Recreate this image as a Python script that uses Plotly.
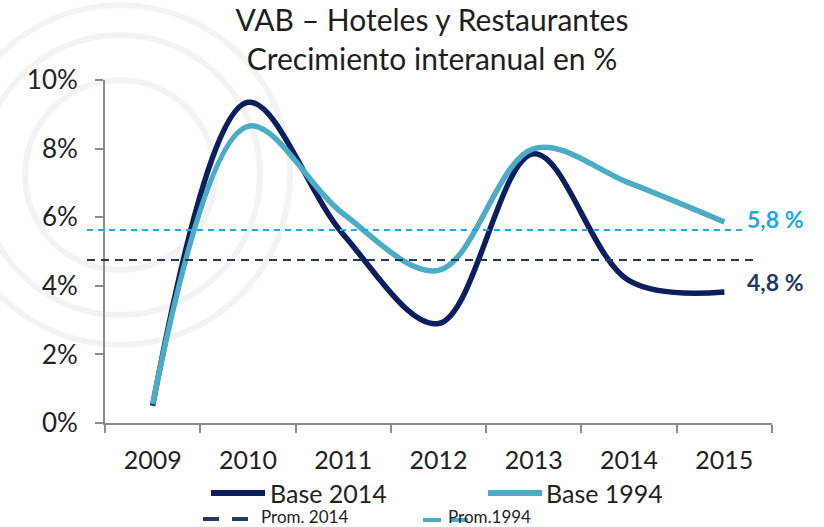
import plotly.graph_objects as go

years = ["2009", "2010", "2011", "2012", "2013", "2014", "2015"]
base_2014 = [0.5, 9.35, 5.5, 2.9, 7.85, 4.15, 3.82]
base_1994 = [0.55, 8.65, 6.1, 4.45, 8.0, 7.0, 5.86]
prom_2014 = 4.75
prom_1994 = 5.63
prom_2014_label = "4,8 %"
prom_1994_label = "5,8 %"
y_ticks = [0, 2, 4, 6, 8, 10]
y_tick_text = ["0%", "2%", "4%", "6%", "8%", "10%"]

DARK = "#0b1f5e"
LIGHT = "#4bacc6"
DASH_DARK = "#1f3864"
DASH_LIGHT = "#1ea8e6"
FONT = "Lato"

W, H = 824, 527
L, R, T, B = 105, 52, 80, 104
pw, ph = W - L - R, H - T - B


def px(x):
    return (x - L) / pw


def py(y):
    return (H - B - y) / ph


fig = go.Figure()
fig.add_trace(go.Scatter(x=years, y=base_2014, mode="lines", name="Base 2014",
                         line=dict(color=DARK, width=5.5, shape="spline", smoothing=1.0),
                         showlegend=False))
fig.add_trace(go.Scatter(x=years, y=base_1994, mode="lines", name="Base 1994",
                         line=dict(color=LIGHT, width=5.5, shape="spline", smoothing=1.0),
                         showlegend=False))

shapes = []
# faint watermark arcs
for r, cx, cy in [(170, 120, 175), (140, 120, 175), (95, 120, 175)]:
    shapes.append(dict(type="circle", xref="paper", yref="paper", layer="below",
                       x0=px(cx - r), x1=px(cx + r), y0=py(cy + r), y1=py(cy - r),
                       line=dict(color="#f2f4f4", width=6)))
# average lines
shapes.append(dict(type="line", xref="paper", yref="y", x0=px(87), x1=px(743),
                   y0=prom_1994, y1=prom_1994, line=dict(color=DASH_LIGHT, width=2, dash="6px,5px")))
shapes.append(dict(type="line", xref="paper", yref="y", x0=px(87), x1=px(753),
                   y0=prom_2014, y1=prom_2014, line=dict(color=DASH_DARK, width=2, dash="8px,6px")))
# legend samples
shapes.append(dict(type="line", xref="paper", yref="paper", x0=px(211), x1=px(265),
                   y0=py(493), y1=py(493), line=dict(color=DARK, width=6)))
shapes.append(dict(type="line", xref="paper", yref="paper", x0=px(488), x1=px(542),
                   y0=py(493), y1=py(493), line=dict(color=LIGHT, width=6)))
shapes.append(dict(type="line", xref="paper", yref="paper", x0=px(203), x1=px(250),
                   y0=py(519), y1=py(519), line=dict(color=DASH_DARK, width=4, dash="16px,13px")))
shapes.append(dict(type="line", xref="paper", yref="paper", x0=px(423), x1=px(468),
                   y0=py(520), y1=py(520), line=dict(color=LIGHT, width=4, dash="18px,10px")))

annotations = [
    dict(text="<b>" + prom_1994_label + "</b>", xref="paper", yref="paper", x=px(745), y=py(219),
         xanchor="left", yanchor="middle", showarrow=False,
         font=dict(family=FONT, size=23, color=DASH_LIGHT)),
    dict(text="<b>" + prom_2014_label + "</b>", xref="paper", yref="paper", x=px(745), y=py(282),
         xanchor="left", yanchor="middle", showarrow=False,
         font=dict(family=FONT, size=23, color=DASH_DARK)),
    dict(text="Base 2014", xref="paper", yref="paper", x=px(268), y=py(493),
         xanchor="left", yanchor="middle", showarrow=False,
         font=dict(family=FONT, size=25, color="#222222")),
    dict(text="Base 1994", xref="paper", yref="paper", x=px(544), y=py(493),
         xanchor="left", yanchor="middle", showarrow=False,
         font=dict(family=FONT, size=25, color="#222222")),
    dict(text="Prom. 2014", xref="paper", yref="paper", x=px(259), y=py(516),
         xanchor="left", yanchor="middle", showarrow=False,
         font=dict(family=FONT, size=17, color="#222222")),
    dict(text="Prom.1994", xref="paper", yref="paper", x=px(446), y=py(516),
         xanchor="left", yanchor="middle", showarrow=False,
         font=dict(family=FONT, size=17, color="#222222")),
]

fig.update_layout(
    width=W, height=H,
    margin=dict(l=L, r=R, t=T, b=B),
    paper_bgcolor="white", plot_bgcolor="white",
    showlegend=False,
    title=dict(text="VAB – Hoteles y Restaurantes<br>Crecimiento interanual en %",
               x=432 / W, xanchor="center", xref="container",
               y=1 - 31 / H, yanchor="middle", yref="container",
               font=dict(family=FONT, size=30, color="#1e1e1e")),
    font=dict(family=FONT, color="#222222"),
    shapes=shapes,
    annotations=annotations,
)
fig.update_xaxes(type="category", range=[-0.5, 6.5], tickson="boundaries", ticks="outside",
                 ticklen=8, ticklabelstandoff=14,
                 tickcolor="#8c8c8c", tickwidth=1.5, showline=True, linecolor="#8c8c8c",
                 linewidth=2, showgrid=False, zeroline=False,
                 tickfont=dict(family=FONT, size=25, color="#222222"))
fig.update_yaxes(range=[0, 10], tickvals=y_ticks, ticktext=y_tick_text, ticks="outside",
                 ticklen=8, ticklabelstandoff=12, tickcolor="#8c8c8c", tickwidth=1.5, showline=True,
                 linecolor="#8c8c8c", linewidth=2, showgrid=False, zeroline=False,
                 tickfont=dict(family=FONT, size=26, color="#222222"))

fig.write_html("out.html", post_script="document.body.style.margin='0';",
               config={"displayModeBar": False})
